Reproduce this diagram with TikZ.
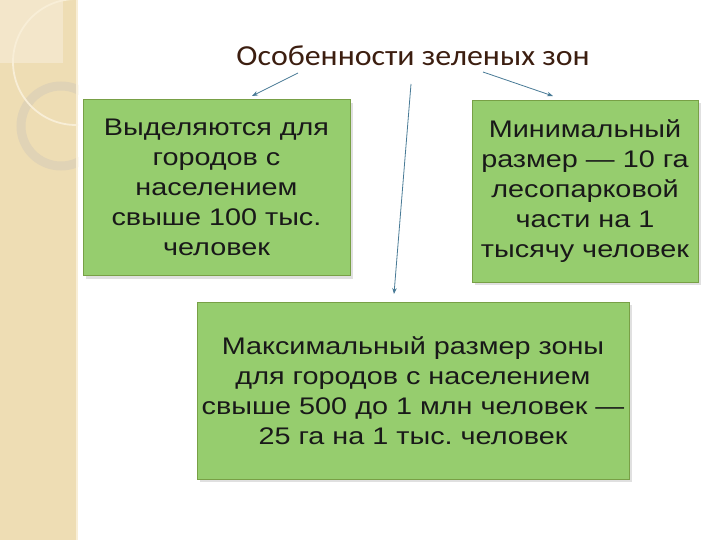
\documentclass[tikz,border=0pt]{standalone}
\usepackage{fontspec}
\setmainfont{Liberation Sans}
\newfontfamily\titlefont[FakeStretch=1.1]{Carlito}
\newfontfamily\boxfont[FakeStretch=1.2]{Liberation Sans}
\usetikzlibrary{arrows.meta}
\frenchspacing
\definecolor{strip}{RGB}{238,221,180}
\definecolor{striplight}{RGB}{243,230,202}
\definecolor{curvelight}{RGB}{248,238,215}
\definecolor{ringc}{RGB}{224,211,182}
\definecolor{boxfill}{RGB}{150,205,110}
\definecolor{boxline}{RGB}{120,160,70}
\definecolor{titlec}{RGB}{60,30,16}
\definecolor{arrowc}{RGB}{72,122,150}
\tikzset{
  greenbox/.style={draw=boxline, line width=0.8pt, fill=boxfill, align=center,
    inner sep=0pt, font=\boxfont\fontsize{24}{30}\selectfont, text=black!90},
  pointer/.style={draw=arrowc, line width=0.8pt, -{Stealth[length=6pt,width=4.5pt]}},
}
\begin{document}
\begin{tikzpicture}[x=1pt,y=-1pt]
\useasboundingbox (0,0) rectangle (720,540);
\fill[white] (0,0) rectangle (720,540);
% left decorative strip
\fill[strip] (0,0) rectangle (78,540);
\fill[striplight] (0,0) rectangle (63,63);
\begin{scope}
\clip (0,0) rectangle (78,540);
\draw[ringc, line width=9pt] (61,126) circle (40);
\draw[curvelight, line width=1.8pt] (76,62) circle (63);
\end{scope}
\draw[curvelight, line width=2pt] (77,0) -- (77,540);
% title
\node[font=\titlefont\fontsize{29}{33}\selectfont, text=titlec] (title) at (413,56) {Особенности зеленых зон};
% boxes
\fill[black, opacity=0.12] (86,103) rectangle (353,279);
\node[greenbox, minimum width=267pt, minimum height=176pt] (b1) at (216.5,187) {Выделяются для\\городов с\\населением\\свыше 100 тыс.\\человек};
\fill[black, opacity=0.12] (475,103) rectangle (701,285);
\node[greenbox, minimum width=226pt, minimum height=182pt] (b2) at (585,191) {Минимальный\\размер — 10 га\\лесопарковой\\части на 1\\тысячу человек};
\fill[black, opacity=0.12] (200,305) rectangle (632,482);
\node[greenbox, minimum width=432pt, minimum height=177pt] (b3) at (413,390.5) {Максимальный размер зоны\\для городов с населением\\свыше 500 до 1 млн человек —\\25 га на 1 тыс. человек};
% connectors
\coordinate (s1) at (298,73);
\coordinate (e1) at (252,96);
\coordinate (s2) at (411,84);
\coordinate (e2) at (394,294);
\coordinate (s3) at (483,72);
\coordinate (e3) at (553,96);
\draw[pointer] (s1) -- (e1);
\draw[pointer] (s2) -- (e2);
\draw[pointer] (s3) -- (e3);
\end{tikzpicture}
\end{document}
